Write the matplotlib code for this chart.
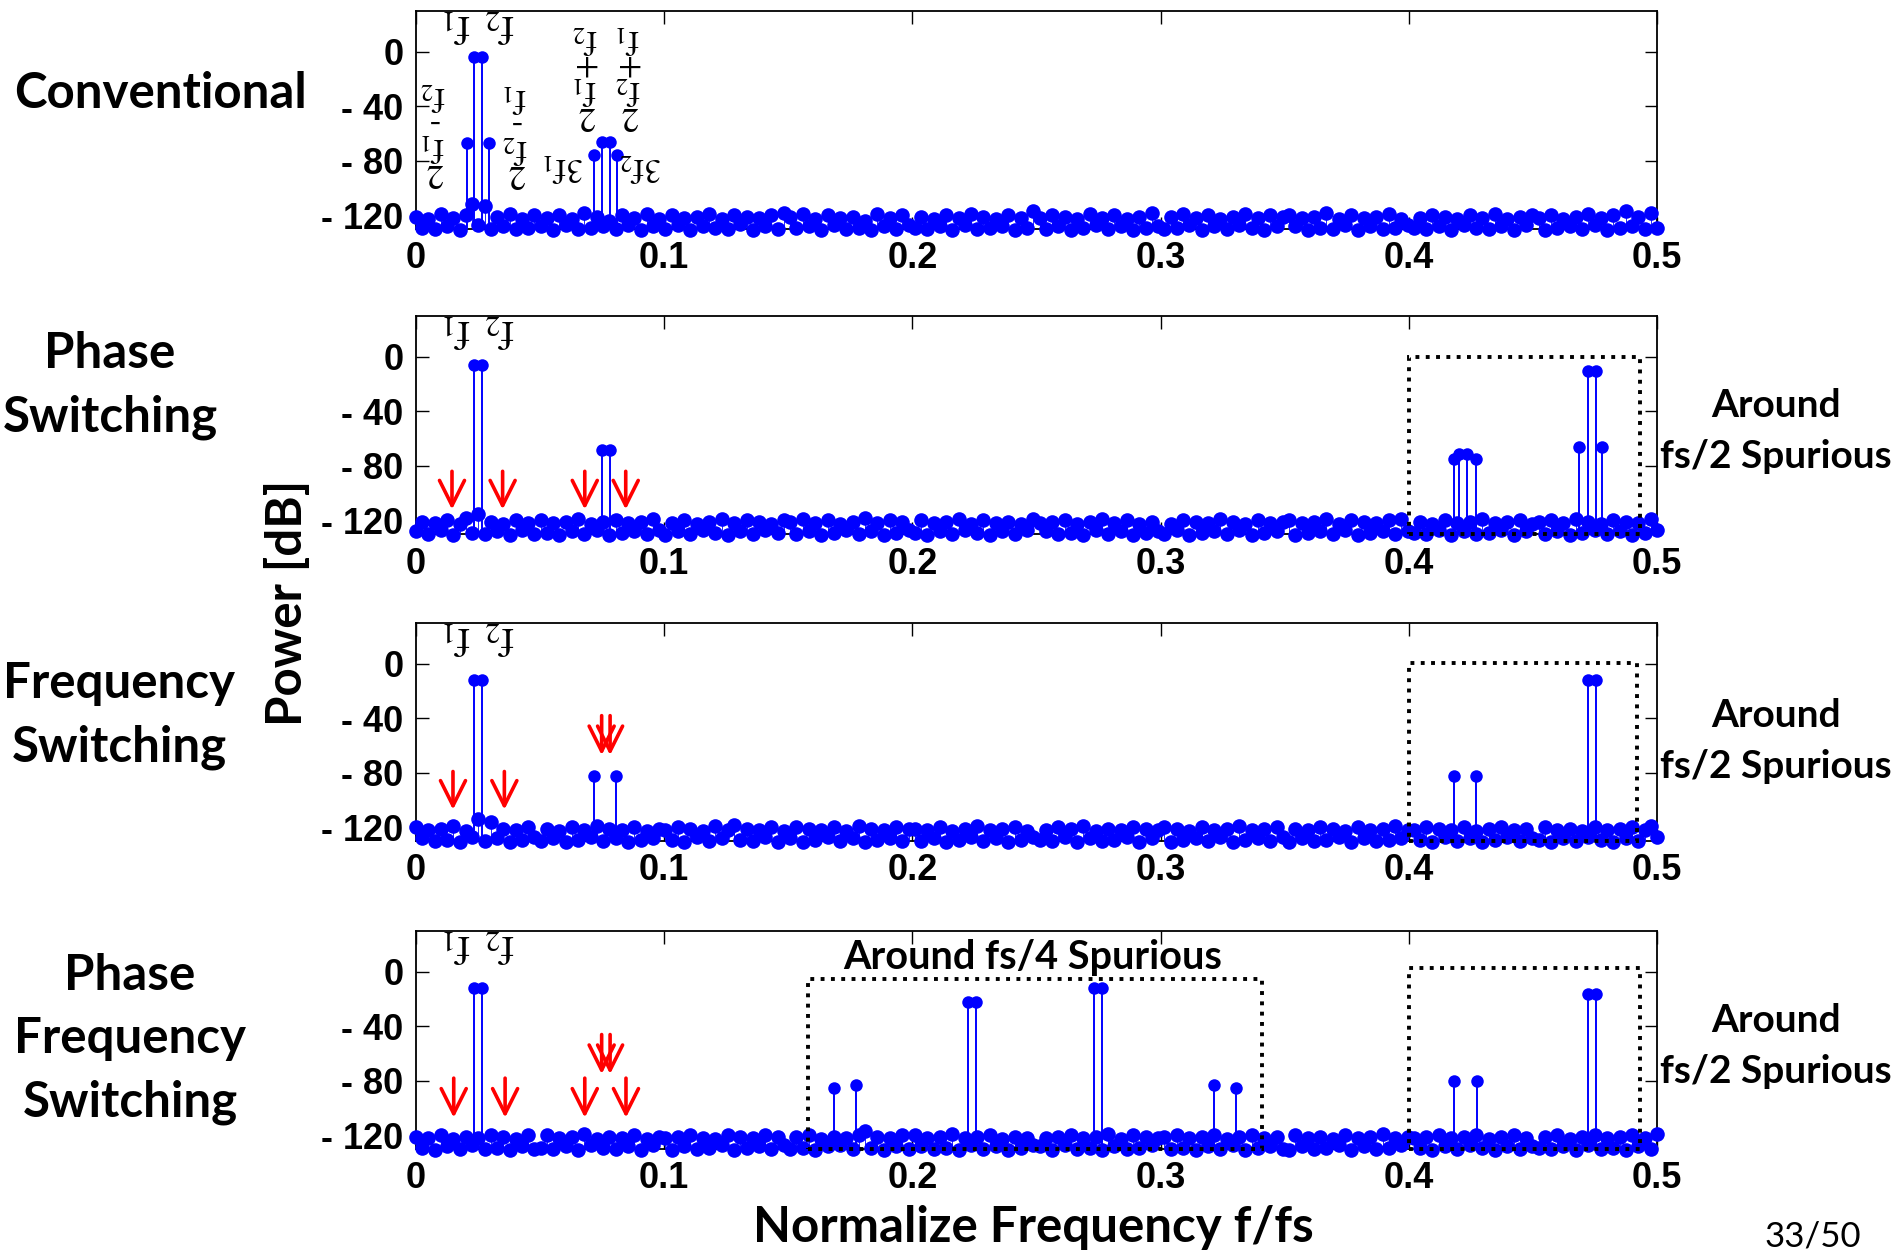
import numpy as np
import matplotlib
matplotlib.use("Agg")
import matplotlib.pyplot as plt
from matplotlib.patches import Rectangle

plt.rcParams["mathtext.fontset"] = "stix"

# ---------------- data ----------------
X_TICKS = [0, 0.1, 0.2, 0.3, 0.4, 0.5]
X_TICK_LABELS = ["0", "0.1", "0.2", "0.3", "0.4", "0.5"]
Y_TICKS = [0, -40, -80, -120]
Y_TICK_LABELS = ["0", "- 40", "- 80", "- 120"]

PANEL_NAMES = ["Conventional", "Phase\nSwitching", "Frequency\nSwitching",
               "Phase\nFrequency\nSwitching"]

CONV_NOISE = [
    -121, -129, -123, -130, -119, -128, -122, -131, -120, -112, -127, -113, -130, -121, -128, -119, -130, -123, -129, -120,
    -128, -122, -131, -120, -127, -123, -130, -118, -129, -121, -128, -124, -130, -120, -127, -122, -131, -119, -128, -123,
    -130, -120, -127, -122, -131, -121, -128, -119, -129, -123, -130, -120, -126, -121, -131, -122, -128, -120, -130, -118,
    -121, -129, -119, -128, -123, -131, -120, -127, -122, -130, -121, -129, -124, -131, -119, -128, -122, -130, -120, -127,
    -129, -121, -130, -123, -128, -120, -131, -122, -127, -119, -130, -121, -129, -123, -128, -120, -131, -122, -129, -117,
    -122, -130, -120, -128, -121, -131, -123, -129, -119, -127, -122, -130, -120, -128, -123, -131, -121, -129, -118, -128,
    -130, -121, -129, -119, -127, -122, -131, -120, -128, -123, -130, -121, -127, -119, -129, -122, -131, -120, -128, -121,
    -120, -128, -122, -131, -121, -129, -118, -130, -123, -127, -120, -131, -122, -128, -121, -130, -119, -129, -123, -127,
    -129, -122, -130, -120, -128, -121, -131, -123, -127, -120, -129, -122, -130, -119, -128, -123, -131, -121, -127, -120,
    -122, -131, -120, -129, -123, -128, -121, -130, -119, -127, -122, -131, -120, -129, -117, -128, -121, -130, -118, -129,
]
PS_NOISE = [
    -128, -121, -130, -122, -127, -120, -131, -123, -118, -129, -115, -130, -121, -128, -123, -131, -120, -127, -122, -130,
    -120, -129, -122, -131, -121, -128, -119, -130, -123, -127, -121, -131, -120, -129, -122, -128, -121, -130, -119, -127,
    -131, -122, -128, -120, -130, -123, -127, -121, -129, -119, -131, -122, -128, -120, -130, -121, -127, -123, -129, -120,
    -121, -130, -119, -128, -122, -131, -120, -129, -123, -127, -121, -130, -118, -128, -122, -131, -120, -129, -121, -127,
    -129, -120, -131, -122, -128, -121, -130, -119, -127, -123, -129, -120, -131, -122, -128, -121, -130, -123, -127, -119,
    -122, -128, -121, -130, -120, -129, -123, -131, -121, -127, -119, -130, -122, -128, -120, -131, -123, -129, -121, -128,
    -130, -123, -127, -120, -131, -121, -129, -122, -128, -119, -130, -121, -127, -123, -131, -120, -129, -122, -128, -121,
    -120, -131, -122, -129, -121, -128, -119, -130, -123, -127, -120, -131, -121, -129, -122, -128, -120, -130, -119, -128,
    -129, -121, -130, -123, -127, -120, -131, -122, -128, -121, -130, -119, -129, -122, -127, -121, -131, -120, -128, -123,
    -121, -130, -120, -128, -122, -131, -119, -129, -121, -127, -123, -130, -120, -128, -121, -131, -122, -129, -119, -127,
]
FS_NOISE = [
    -120, -128, -122, -130, -121, -129, -119, -131, -123, -127, -114, -130, -116, -128, -121, -131, -122, -129, -120, -127,
    -130, -121, -128, -123, -131, -120, -129, -122, -127, -119, -130, -121, -128, -122, -131, -120, -129, -123, -128, -121,
    -122, -129, -120, -131, -121, -127, -123, -130, -119, -128, -122, -118, -129, -121, -130, -122, -127, -120, -131, -123,
    -128, -120, -131, -121, -129, -122, -127, -120, -130, -123, -128, -119, -131, -121, -129, -122, -128, -120, -130, -121,
    -121, -130, -122, -128, -120, -131, -123, -129, -121, -127, -119, -130, -122, -128, -121, -131, -120, -129, -123, -127,
    -129, -122, -130, -120, -127, -121, -131, -119, -128, -123, -130, -121, -129, -122, -127, -120, -131, -121, -128, -122,
    -120, -131, -121, -129, -123, -128, -120, -130, -122, -127, -121, -131, -119, -129, -122, -128, -121, -130, -120, -127,
    -131, -121, -128, -122, -130, -120, -129, -121, -127, -123, -131, -120, -128, -122, -130, -121, -129, -119, -128, -122,
    -122, -129, -120, -131, -121, -127, -122, -130, -120, -128, -123, -131, -121, -129, -120, -127, -122, -130, -121, -128,
    -129, -120, -131, -122, -128, -121, -130, -123, -127, -120, -129, -122, -131, -121, -128, -120, -130, -122, -119, -127,
]
PFS_NOISE = [
    -121, -129, -122, -131, -120, -128, -123, -130, -121, -127, -122, -130, -120, -129, -121, -131, -123, -128, -120, -130,
    -129, -120, -130, -122, -128, -121, -131, -119, -127, -123, -129, -121, -130, -122, -128, -120, -131, -123, -127, -121,
    -122, -131, -121, -128, -120, -130, -122, -129, -123, -127, -120, -131, -121, -129, -122, -128, -120, -130, -121, -127,
    -130, -121, -129, -120, -131, -123, -128, -121, -127, -122, -130, -120, -117, -129, -121, -131, -122, -128, -120, -130,
    -120, -128, -122, -130, -121, -129, -119, -131, -122, -127, -121, -130, -120, -128, -123, -131, -121, -129, -122, -127,
    -128, -122, -131, -121, -127, -120, -130, -122, -129, -121, -131, -119, -128, -123, -130, -120, -129, -121, -127, -122,
    -121, -130, -120, -129, -122, -131, -121, -128, -120, -130, -123, -127, -121, -131, -120, -129, -122, -128, -121, -130,
    -131, -120, -128, -122, -130, -121, -129, -123, -127, -120, -131, -122, -128, -121, -130, -119, -129, -122, -127, -121,
    -122, -129, -121, -131, -120, -128, -122, -130, -121, -127, -120, -129, -123, -131, -121, -128, -120, -130, -122, -128,
    -129, -121, -130, -120, -128, -123, -131, -121, -127, -120, -130, -122, -129, -121, -131, -120, -128, -122, -130, -119,
]
NOISE = [CONV_NOISE, PS_NOISE, FS_NOISE, PFS_NOISE]

CONV_TONE_F = [0.0207, 0.0233, 0.0265, 0.0295, 0.0716, 0.0748, 0.0780, 0.0809]
CONV_TONE_DB = [-67, -4, -4, -67, -76, -66, -66, -76]
PS_TONE_F = [0.0233, 0.0265, 0.0748, 0.0782, 0.4181, 0.4204, 0.4236, 0.4270,
             0.4687, 0.4721, 0.4753, 0.4778]
PS_TONE_DB = [-6, -6, -68, -68, -75, -71, -71, -75, -66, -10, -10, -66]
FS_TONE_F = [0.0233, 0.0265, 0.0716, 0.0807, 0.4182, 0.4270, 0.4724, 0.4756]
FS_TONE_DB = [-12, -12, -82, -82, -82, -82, -12, -12]
PFS_TONE_F = [0.0233, 0.0265, 0.1685, 0.1774, 0.2225, 0.2257, 0.2732, 0.2764,
              0.3215, 0.3304, 0.4184, 0.4273, 0.4723, 0.4754]
PFS_TONE_DB = [-12, -12, -85, -83, -22, -22, -12, -12, -83, -85, -80, -80, -16, -16]
TONE_F = [CONV_TONE_F, PS_TONE_F, FS_TONE_F, PFS_TONE_F]
TONE_DB = [CONV_TONE_DB, PS_TONE_DB, FS_TONE_DB, PFS_TONE_DB]

# red arrows: (x positions, tail dB, tip dB) per panel
ARROWS = [
    [],
    [([0.0145, 0.0349, 0.0680, 0.0845], -84, -112)],
    [([0.0149, 0.0356], -79, -107), ([0.0748, 0.0782], -38, -67)],
    [([0.0152, 0.0359, 0.0680, 0.0846], -78, -107), ([0.0748, 0.0782], -46, -75)],
]

# dotted boxes: (x0, x1, top dB) per panel
BOXES = [
    [],
    [(0.400, 0.493, 0)],
    [(0.400, 0.492, 1)],
    [(0.158, 0.341, -5), (0.400, 0.493, 3)],
]

# upside-down tone labels (text lines, x, y)
F_LABELS = [("$\\mathrm{f}_1$", 0.0165, 20), ("$\\mathrm{f}_2$", 0.0338, 20)]
CONV_EXTRA_LABELS = [
    (["2", "$\\mathrm{f}_1$", "-", "$\\mathrm{f}_2$"], 0.0070, -60),
    (["2", "$\\mathrm{f}_2$", "-", "$\\mathrm{f}_1$"], 0.0400, -61),
    (["2", "$\\mathrm{f}_1$", "+", "$\\mathrm{f}_2$"], 0.0680, -18),
    (["2", "$\\mathrm{f}_2$", "+", "$\\mathrm{f}_1$"], 0.0854, -18),
    (["3$\\mathrm{f}_1$"], 0.0593, -84),
    (["3$\\mathrm{f}_2$"], 0.0906, -84),
]

# ---------------- layout ----------------
W, H = 1901, 1252
fig = plt.figure(figsize=(W / 100, H / 100), dpi=100)
AX_L, AX_R = 416, 1657
AX_TOPS = [11, 316, 623, 931]
AX_H = 218
YMIN, YMAX = -130, 30
BLUE = "#0000ff"

def fx(x):
    return x / W

def fy(y):
    return 1 - y / H

freq_grid = np.linspace(0, 0.5, len(CONV_NOISE))

for i, top in enumerate(AX_TOPS):
    ax = fig.add_axes([fx(AX_L), fy(top + AX_H), (AX_R - AX_L) / W, AX_H / H])
    ax.set_xlim(0, 0.5)
    ax.set_ylim(YMIN, YMAX)
    noise = NOISE[i]
    ax.vlines(freq_grid, YMIN, noise, colors=BLUE, lw=0.6, zorder=2)
    ax.plot(freq_grid, noise, "o", color=BLUE, ms=10.5, mec="none",
            clip_on=False, zorder=3)
    ax.vlines(TONE_F[i], YMIN, TONE_DB[i], colors=BLUE, lw=1.4, zorder=4)
    ax.plot(TONE_F[i], TONE_DB[i], "o", color=BLUE, ms=9, mec="none",
            zorder=5)

    ax.set_xticks(X_TICKS)
    ax.set_xticklabels(X_TICK_LABELS)
    ax.set_yticks(Y_TICKS)
    ax.set_yticklabels(Y_TICK_LABELS)
    ax.tick_params(direction="in", length=9, width=1.0, top=True, right=True,
                   labelsize=26, pad=9)
    for lab in ax.get_xticklabels() + ax.get_yticklabels():
        lab.set_fontweight("bold")
        lab.set_fontfamily("Liberation Sans")
    for sp in ax.spines.values():
        sp.set_linewidth(1.3)
        sp.set_zorder(1)

    for txt, x, y in F_LABELS:
        ax.text(x, y, txt, rotation=180, ha="center", va="center",
                fontsize=30, family="STIXGeneral", fontweight="bold", zorder=6)
    if i == 0:
        for lines, x, y in CONV_EXTRA_LABELS:
            ax.text(x, y, "\n".join(lines), rotation=180, ha="center",
                    va="center", fontsize=25, family="STIXGeneral",
                    linespacing=0.72, multialignment="center", zorder=6)

    for xs, tail, tip in ARROWS[i]:
        for x in xs:
            ax.annotate("", xy=(x, tip), xytext=(x, tail),
                        arrowprops=dict(arrowstyle="->,head_length=0.9,head_width=0.45",
                                        color="red", lw=2.6, mutation_scale=20,
                                        shrinkA=0, shrinkB=0),
                        zorder=7, annotation_clip=False)

    for x0, x1, ytop in BOXES[i]:
        ax.add_patch(Rectangle((x0, YMIN), x1 - x0, ytop - YMIN, fill=False,
                               ls=":", lw=2.8, ec="black", clip_on=False,
                               zorder=8))

# ---------------- figure texts ----------------
LATO = "Lato"
name_pos = [(160, 93), (110, 385), (119, 716), (130, 1039)]
for name, (x, y) in zip(PANEL_NAMES, name_pos):
    fig.text(fx(x), fy(y), name, ha="center", va="center", fontsize=35.5,
             fontweight="bold", family=LATO, linespacing=1.5,
             multialignment="center")

for y in [431, 741, 1046]:
    fig.text(fx(1776), fy(y), "Around\nfs/2 Spurious", ha="center",
             va="center", fontsize=28, fontweight="bold", family=LATO,
             linespacing=1.55, multialignment="center")

fig.text(fx(1033), fy(957), "Around fs/4 Spurious", ha="center", va="center",
         fontsize=28.5, fontweight="bold", family=LATO)
fig.text(fx(287), fy(603), "Power [dB]", rotation=90, ha="center",
         va="center", fontsize=35.5, fontweight="bold", family=LATO)
fig.text(fx(1033), fy(1228), "Normalize Frequency f/fs", ha="center",
         va="center", fontsize=35.5, fontweight="bold", family=LATO)
fig.text(fx(1813), fy(1237), "33/50", ha="center", va="center", fontsize=25,
         family=LATO)

fig.savefig("out.png", dpi=100)
